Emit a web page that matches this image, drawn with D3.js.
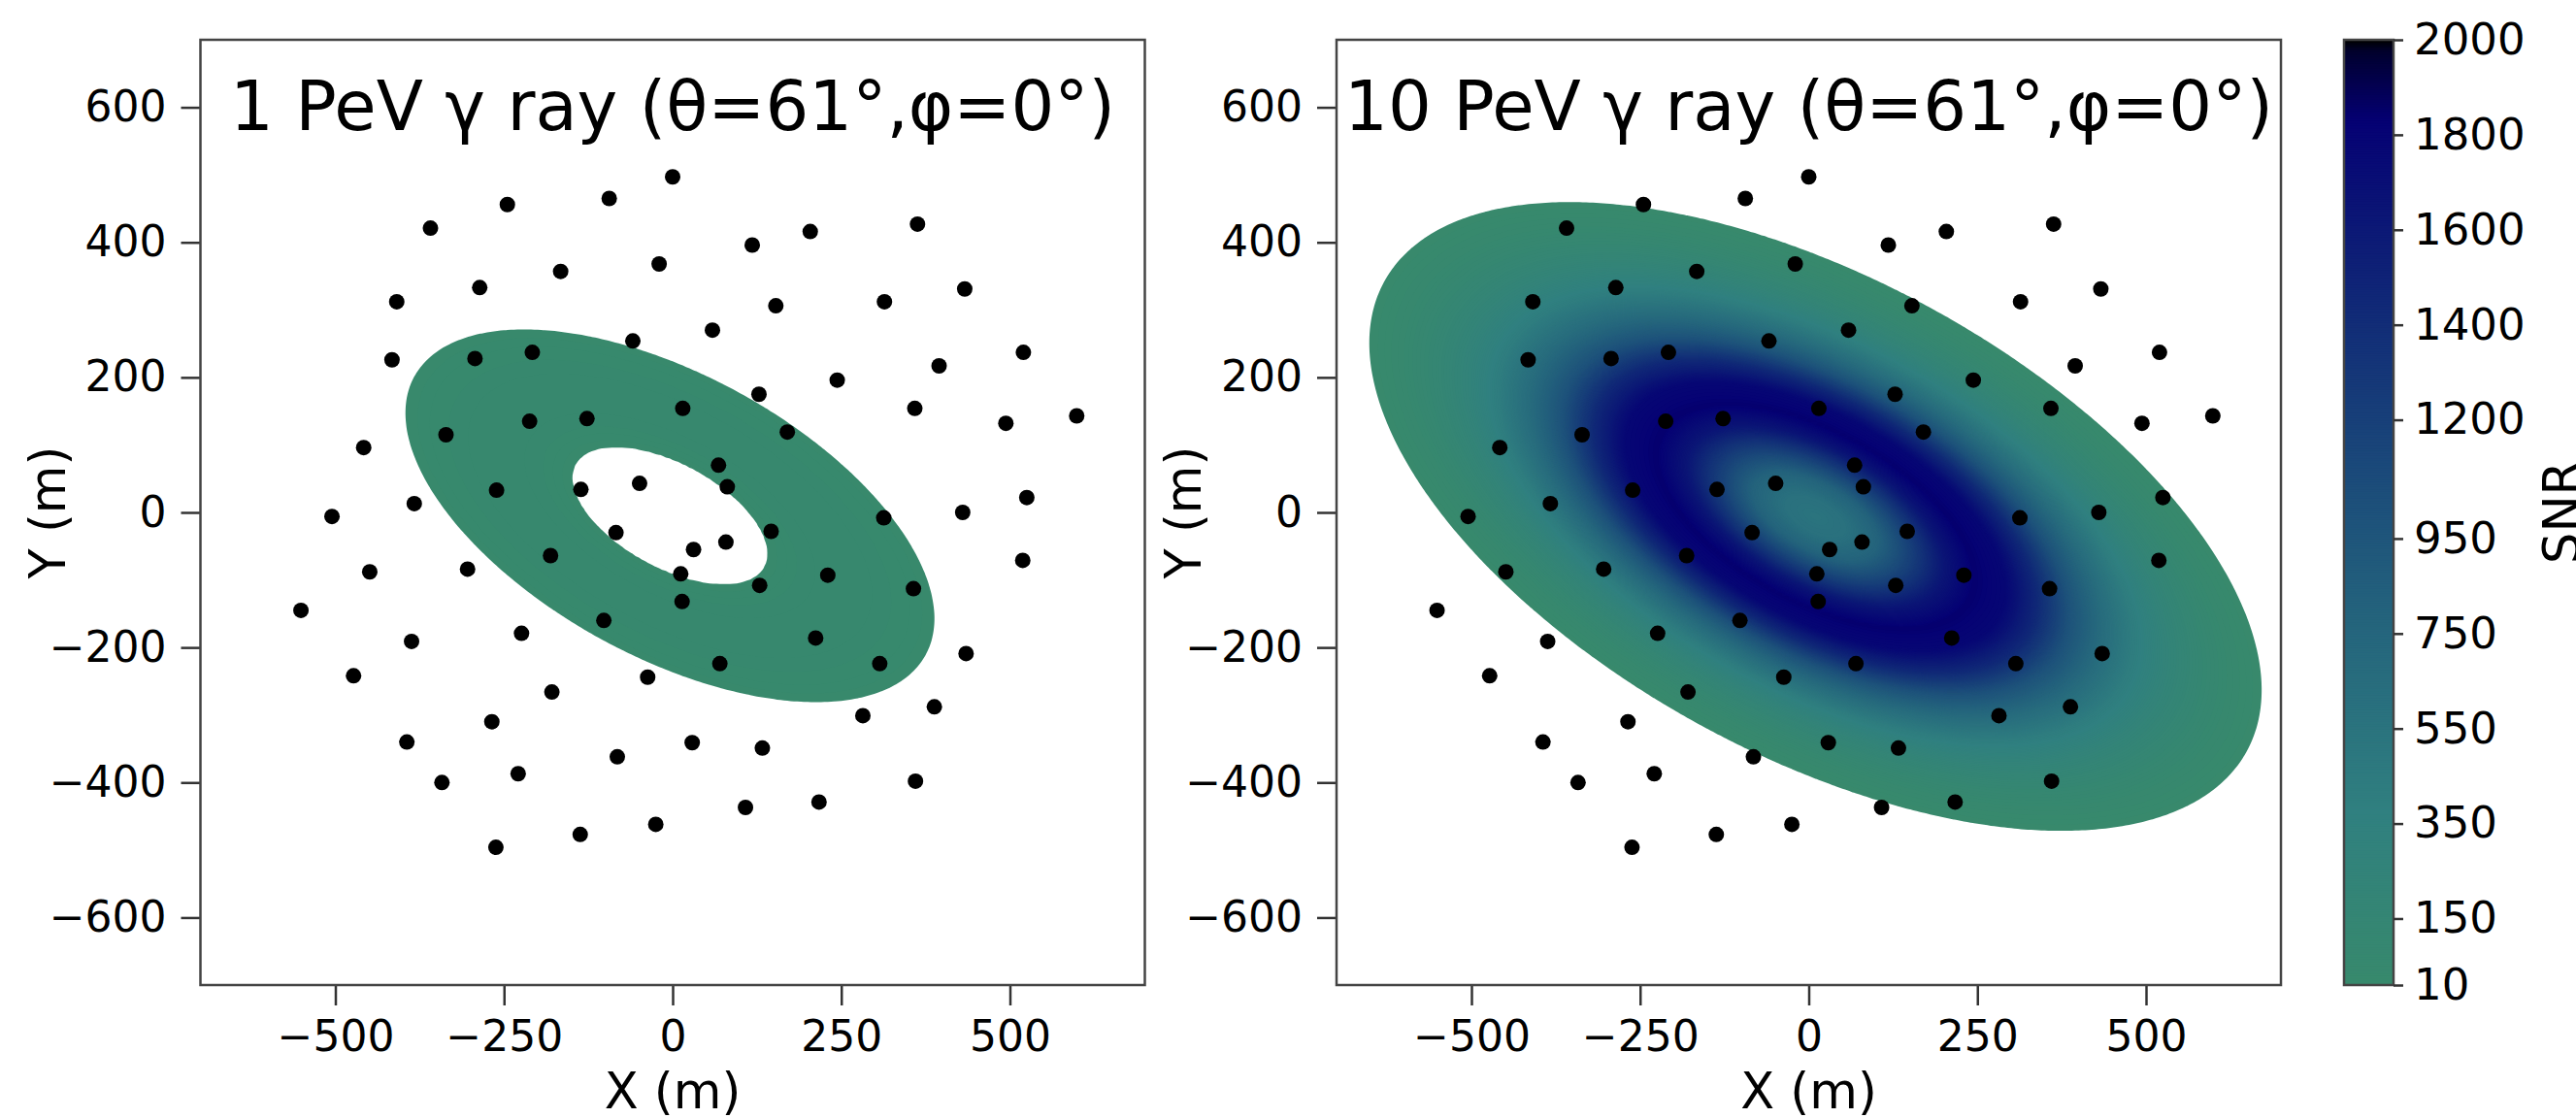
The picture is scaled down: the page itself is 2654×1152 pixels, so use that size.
<!DOCTYPE html>
<html>
<head>
    <title>SNR footprint</title>
    <style type="text/css">
        body { margin: 0; background: #fff; }
        svg text {
            font-family: "DejaVu Sans", sans-serif;
            fill: #000;
        }
        .axis line { stroke: #333; stroke-width: 2.5px; }
        .axis path { display: none; }
        .spine { fill: none; stroke: #444; stroke-width: 2.5px; }
    </style>
</head>
<body>
<script src="https://d3js.org/d3.v7.min.js" type="text/javascript"></script>
<script type="text/javascript">

    // station positions on the ground (m)
    var stationX = [0, -94, -245, -359, 363, 204, 118, -20, -166, -286,
        -409, 433, 314, 153, 59, -59, -208, -293, -416, 520,
        395, 244, 128, 15, -127, -212, -336, 359, 494, 599,
        170, -458, 68, 81, -49, -136, -261, -383, -505, 525,
        430, 313, 146, 79, 31, -84, -181, -304, -449, 519,
        357, 230, 129, 12, 14, -551, -102, 212, -224, -387,
        435, 307, 70, -473, -37, -179, 388, 282, -268, 29,
        133, -394, -82, -229, -342, 360, 217, 108, -25, -137, -262];
    var stationY = [497, 465, 456, 421, 427, 416, 396, 368, 357, 333,
        312, 331, 312, 306, 270, 254, 237, 228, 226, 237,
        217, 196, 175, 154, 139, 135, 115, 154, 132, 143,
        119, 96, 70, 38, 43, 34, 33, 13, -6, 22,
        0, -8, -28, -44, -55, -30, -64, -84, -88, -71,
        -113, -93, -108, -91, -132, -145, -160, -186, -179, -191,
        -209, -224, -224, -242, -244, -266, -288, -301, -310, -341,
        -349, -340, -362, -387, -400, -398, -429, -437, -462, -477, -496];

    var xTicks = [-500, -250, 0, 250, 500];
    var yTicks = [-600, -400, -200, 0, 200, 400, 600];
    var snrTicks = [10, 150, 350, 550, 750, 950, 1200, 1400, 1600, 1800, 2000];

    // SNR against radius in the shower plane (m)
    var radius1PeV = [0, 70, 78, 100, 130, 160, 190, 208, 215];
    var snr1PeV = [3, 6, 10.5, 40, 60, 50, 30, 11, 5];
    var radius10PeV = [0, 25, 50, 75, 100, 125, 150, 175, 200, 225, 250, 275, 300, 325, 350, 360];
    var snr10PeV = [550, 600, 800, 1200, 1620, 1850, 1780, 1450, 1000, 680, 430, 260, 140, 60, 12, 5];

    var titles = ['1 PeV \u03b3 ray (\u03b8=61\u00b0,\u03c6=0\u00b0)', '10 PeV \u03b3 ray (\u03b8=61\u00b0,\u03c6=0\u00b0)'];
    var coreX = [-4, 10];
    var coreY = [-5, -6];
    var zenith = 61;     // deg
    var tilt = -28.5;    // deg, long axis of the footprint

    var W = 2654, H = 1152;
    var svg = d3.select('body').append('svg')
        .attr('width', W).attr('height', H);

    // gist_earth, only the dark end is used
    var earthR = d3.scaleLinear().domain([0, 0.2824, 0.4588]).range([0, 0.1882, 0.2714]);
    var earthG = d3.scaleLinear()
        .domain([0, 0.0275, 0.1098, 0.1647, 0.2078, 0.2824, 0.5216])
        .range([0, 0, 0.1893, 0.3035, 0.3841, 0.5020, 0.6397]);
    var earthB = d3.scaleLinear()
        .domain([0, 0.0039, 0.0078, 0.0275, 0.0314, 0.2824, 0.4667])
        .range([0, 0.1684, 0.2212, 0.4329, 0.4549, 0.5004, 0.2748]);
    var snrToT = d3.scaleLinear().domain([10, 2000]).range([0.345, 0]).clamp(true);
    function snrColor(v) {
        var t = snrToT(v);
        return d3.rgb(earthR(t) * 255, earthG(t) * 255, earthB(t) * 255).toString();
    }

    var panels = [
        {x0: 206.5, x1: 1179.5, radius: radius1PeV, snr: snr1PeV},
        {x0: 1377, x1: 2350, radius: radius10PeV, snr: snr10PeV}
    ];
    var plotTop = 41, plotBottom = 1015;

    var step = 5, n = 1400 / step + 1;
    var cosT = Math.cos(tilt * Math.PI / 180), sinT = Math.sin(tilt * Math.PI / 180);
    var cosZ = Math.cos(zenith * Math.PI / 180);
    var levels = d3.range(10, 2001, 10);

    panels.forEach(function (p, k) {
        var x = d3.scaleLinear().domain([-700, 700]).range([p.x0, p.x1]);
        var y = d3.scaleLinear().domain([-700, 700]).range([plotBottom, plotTop]);
        var g = svg.append('g');

        g.append('clipPath').attr('id', 'clip' + k)
            .append('rect')
            .attr('x', p.x0).attr('y', plotTop)
            .attr('width', p.x1 - p.x0).attr('height', plotBottom - plotTop);

        // SNR map
        var profile = d3.scaleLinear().domain(p.radius).range(p.snr).clamp(true);
        var values = new Float64Array(n * n);
        for (var j = 0; j < n; j++) {
            for (var i = 0; i < n; i++) {
                var dx = -700 + i * step - coreX[k];
                var dy = 700 - j * step - coreY[k];
                var u = dx * cosT + dy * sinT;
                var w = -dx * sinT + dy * cosT;
                values[i + j * n] = profile(Math.sqrt(u * cosZ * u * cosZ + w * w));
            }
        }
        var contours = d3.contours().size([n, n]).thresholds(levels)(values);
        var proj = d3.geoTransform({
            point: function (gx, gy) {
                this.stream.point(x(-700 + (gx - 0.5) * step), y(700 - (gy - 0.5) * step));
            }
        });
        g.append('g').attr('clip-path', 'url(#clip' + k + ')')
            .selectAll('path')
            .data(contours.filter(function (c) { return c.coordinates.length; }))
            .enter().append('path')
            .attr('d', d3.geoPath(proj))
            .attr('fill', function (c) { return snrColor(c.value); });

        // stations
        g.append('g').selectAll('circle')
            .data(d3.range(stationX.length))
            .enter().append('circle')
            .attr('cx', function (i) { return x(stationX[i]); })
            .attr('cy', function (i) { return y(stationY[i]); })
            .attr('r', 8)
            .attr('fill', '#000');

        var fmt = function (d) { return d < 0 ? '\u2212' + Math.abs(d) : d; };
        g.append('g').attr('class', 'axis')
            .attr('transform', 'translate(0,' + plotBottom + ')')
            .call(d3.axisBottom(x).tickValues(xTicks).tickSize(21).tickPadding(16).tickFormat(fmt))
            .selectAll('text').style('font-size', '44px');
        g.append('g').attr('class', 'axis')
            .attr('transform', 'translate(' + p.x0 + ',0)')
            .call(d3.axisLeft(y).tickValues(yTicks).tickSize(20).tickPadding(15).tickFormat(fmt))
            .selectAll('text').style('font-size', '44px');

        g.append('rect').attr('class', 'spine')
            .attr('x', p.x0).attr('y', plotTop)
            .attr('width', p.x1 - p.x0).attr('height', plotBottom - plotTop);

        var cx = (p.x0 + p.x1) / 2;
        g.append('text')
            .attr('x', cx).attr('y', 134)
            .attr('text-anchor', 'middle')
            .style('font-size', '70.5px')
            .text(titles[k]);
        g.append('text')
            .attr('x', cx).attr('y', 1142)
            .attr('text-anchor', 'middle')
            .style('font-size', '51px')
            .text('X (m)');
        g.append('text')
            .attr('transform', 'translate(' + (p.x0 - 140) + ',' + ((plotTop + plotBottom) / 2) + ') rotate(-90)')
            .attr('text-anchor', 'middle')
            .style('font-size', '51px')
            .text('Y (m)');
    });

    // colour bar
    var cbX = 2415, cbW = 51;
    var cbY = d3.scaleLinear().domain([10, 2000]).range([plotBottom, plotTop]);
    var cb = svg.append('g');
    cb.selectAll('rect.cell')
        .data(d3.range(10, 2000, 5))
        .enter().append('rect')
        .attr('class', 'cell')
        .attr('x', cbX).attr('width', cbW)
        .attr('y', function (v) { return cbY(v + 5) - 0.5; })
        .attr('height', function (v) { return cbY(v) - cbY(v + 5) + 1; })
        .attr('fill', function (v) { return snrColor(v + 2.5); });
    cb.append('rect').attr('class', 'spine')
        .attr('x', cbX).attr('y', plotTop).attr('width', cbW).attr('height', plotBottom - plotTop);
    cb.append('g').attr('class', 'axis')
        .attr('transform', 'translate(' + (cbX + cbW) + ',0)')
        .call(d3.axisRight(cbY).tickValues(snrTicks).tickSize(10).tickPadding(11).tickFormat(d3.format('d')))
        .selectAll('text').style('font-size', '45px');
    cb.append('text')
        .attr('transform', 'translate(2657,' + ((plotTop + plotBottom) / 2) + ') rotate(-90)')
        .attr('text-anchor', 'middle')
        .style('font-size', '51px')
        .text('SNR');

</script>
</body>
</html>
